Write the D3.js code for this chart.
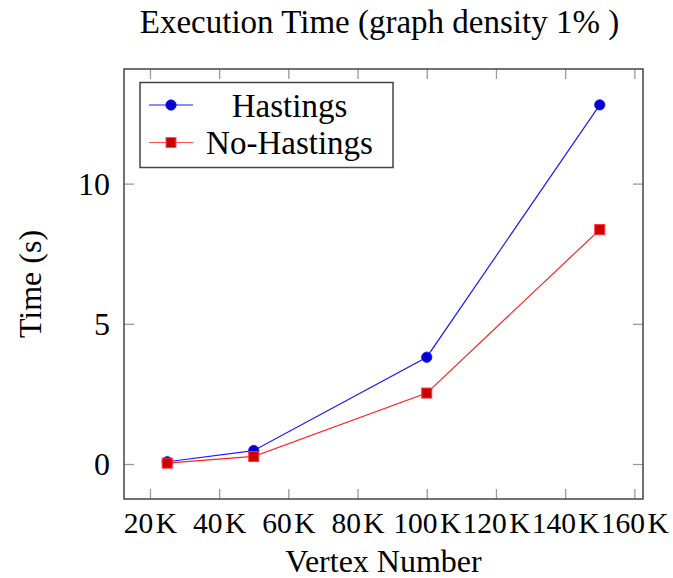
<!DOCTYPE html>
<html>
<head>
<meta charset="utf-8">
<script src="https://cdn.jsdelivr.net/npm/d3@7"></script>
<style>
  body { margin: 0; background: #fff; }
  text { font-family: "Liberation Serif", "DejaVu Serif", serif; fill: #000; }
</style>
</head>
<body>
<svg id="chart" width="673" height="578"></svg>
<script>
// data (x in thousands of vertices, y in seconds)
const vertices = [25, 50, 100, 150]
const hastings = [0.08, 0.48, 3.81, 12.81]
const noHastings = [0.03, 0.27, 2.53, 8.36]
const xTicks = [20, 40, 60, 80, 100, 120, 140, 160]
const yTicks = [0, 5, 10]
const seriesNames = ['Hastings', 'No-Hastings']

const margin = {left: 124, right: 30, top: 69, bottom: 79}
const width = 673 - margin.left - margin.right
const height = 578 - margin.top - margin.bottom

// pgfplots style: enlarge limits by 10% of the data range
const enlarge = (lo, hi) => {
  let pad = (hi - lo) * 0.1
  return [lo - pad, hi + pad]
}
const allY = hastings.concat(noHastings)

const x = d3.scaleLinear()
  .domain(enlarge(d3.min(vertices), d3.max(vertices)))
  .range([0, width])
const y = d3.scaleLinear()
  .domain(enlarge(d3.min(allY), d3.max(allY)))
  .range([height, 0])

const svg = d3.select('#chart')
const g = svg.append('g').attr('transform', `translate(${margin.left},${margin.top})`)

const tickLen = 10
const tickColor = '#9a9a9a'
const fontSize = '32px'

// axes with inward ticks, mirrored on top and right
const xAxis = g.append('g').attr('transform', `translate(0,${height})`)
  .call(d3.axisBottom(x).tickValues(xTicks).tickSize(-tickLen).tickPadding(13)
    .tickFormat(d => `${d}\u200aK`))
const xTop = g.append('g')
  .call(d3.axisTop(x).tickValues(xTicks).tickSize(-tickLen).tickFormat(''))
const yAxis = g.append('g')
  .call(d3.axisLeft(y).tickValues(yTicks).tickSize(-tickLen).tickPadding(14))
const yRight = g.append('g').attr('transform', `translate(${width},0)`)
  .call(d3.axisRight(y).tickValues(yTicks).tickSize(-tickLen).tickFormat(''))

for (let a of [xAxis, xTop, yAxis, yRight]) {
  a.select('.domain').remove()
  a.selectAll('.tick line').attr('stroke', tickColor).attr('stroke-width', 1.3)
  a.selectAll('.tick text').style('font-size', fontSize).attr('fill', '#000')
}
// x labels sit close together, as in the original; a bit smaller so they don't collide
xAxis.selectAll('.tick text').attr('dy', '0.71em').style('font-size', '29.5px')
yAxis.selectAll('.tick text').attr('dy', '0.34em')

g.append('rect')
  .attr('width', width).attr('height', height)
  .attr('fill', 'none').attr('stroke', '#444').attr('stroke-width', 1.5)

const line = d3.line().x((d, i) => x(vertices[i])).y(d => y(d))

g.append('path').datum(hastings)
  .attr('d', line).attr('fill', 'none').attr('stroke', '#1a1aff').attr('stroke-width', 1.2)
g.append('path').datum(noHastings)
  .attr('d', line).attr('fill', 'none').attr('stroke', '#ff2020').attr('stroke-width', 1.2)

g.selectAll('.hmark').data(hastings).enter().append('circle')
  .attr('cx', (d, i) => x(vertices[i])).attr('cy', d => y(d)).attr('r', 5.2)
  .attr('fill', '#0000d0').attr('stroke', '#1a1aff').attr('stroke-width', 0.8)

const sq = 10
g.selectAll('.nmark').data(noHastings).enter().append('rect')
  .attr('x', (d, i) => x(vertices[i]) - sq / 2).attr('y', d => y(d) - sq / 2)
  .attr('width', sq).attr('height', sq)
  .attr('fill', '#cc0000').attr('stroke', '#ff3030').attr('stroke-width', 1)

// legend
const lg = svg.append('g').attr('transform', 'translate(140,82.5)')
lg.append('rect').attr('width', 253).attr('height', 85)
  .attr('fill', '#fff').attr('stroke', '#444').attr('stroke-width', 1.5)

const rows = [
  {name: seriesNames[0], stroke: '#1a1aff', fill: '#0000d0', shape: 'circle'},
  {name: seriesNames[1], stroke: '#ff5050', fill: '#cc0000', shape: 'square'}
]
rows.forEach((r, i) => {
  let cy = 22.5 + i * 37.5
  lg.append('line').attr('x1', 9).attr('x2', 53).attr('y1', cy).attr('y2', cy)
    .attr('stroke', r.stroke).attr('stroke-width', 1.2)
  if (r.shape === 'circle')
    lg.append('circle').attr('cx', 31).attr('cy', cy).attr('r', 5.2)
      .attr('fill', r.fill).attr('stroke', r.stroke).attr('stroke-width', 0.8)
  else
    lg.append('rect').attr('x', 31 - sq / 2).attr('y', cy - sq / 2).attr('width', sq).attr('height', sq)
      .attr('fill', r.fill).attr('stroke', r.stroke)
  lg.append('text').attr('x', 149.5).attr('y', cy).attr('dy', '0.35em')
    .attr('text-anchor', 'middle').style('font-size', '33px').text(r.name)
})

// title and axis labels
svg.append('text').attr('x', margin.left + width / 2 - 4).attr('y', 33)
  .attr('text-anchor', 'middle').style('font-size', '33px')
  .text('Execution Time (graph density 1% )')

svg.append('text').attr('x', margin.left + width / 2).attr('y', 572)
  .attr('text-anchor', 'middle').style('font-size', fontSize)
  .text('Vertex Number')

svg.append('text')
  .attr('transform', `translate(41,${margin.top + height / 2}) rotate(-90)`)
  .attr('text-anchor', 'middle').style('font-size', fontSize)
  .text('Time (s)')
</script>
</body>
</html>
